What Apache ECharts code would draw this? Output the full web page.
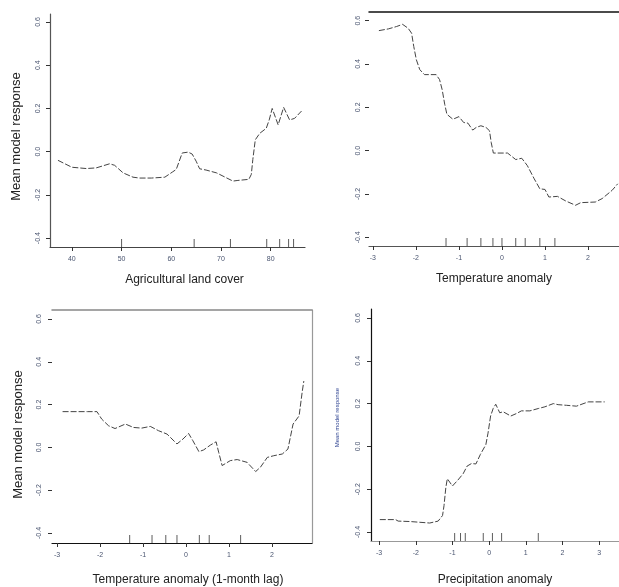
<!DOCTYPE html>
<html>
<head>
<meta charset="utf-8">
<script src="https://cdn.jsdelivr.net/npm/echarts@6/dist/echarts.min.js"></script>
<style>
  html, body { margin: 0; padding: 0; background: #fff; }
  #chart { width: 619px; height: 587px; }
</style>
</head>
<body>
<div id="chart"></div>
<script>
// partial dependence curves
var yTicks = [-0.4, -0.2, 0, 0.2, 0.4, 0.6];

var agriTicks = [40, 50, 60, 70, 80];
var agriX = [37.2, 40, 42.9, 44.9, 47.6, 48.6, 50.3, 52.3, 53.6, 56.0, 58.7, 60.3, 61.0, 62.2, 63.4, 64.2, 65.0, 65.7, 67.0, 69.1, 70.4, 72.4, 73.4, 75.6, 76.1, 76.4, 76.9, 77.8, 79.1, 79.7, 80.3, 81.5, 82.6, 83.8, 84.8, 86.2];
var agriY = [-0.040, -0.072, -0.078, -0.075, -0.056, -0.063, -0.098, -0.118, -0.122, -0.122, -0.118, -0.093, -0.082, -0.006, -0.002, -0.011, -0.044, -0.079, -0.085, -0.098, -0.113, -0.136, -0.133, -0.128, -0.105, -0.037, 0.055, 0.085, 0.108, 0.147, 0.200, 0.124, 0.205, 0.147, 0.154, 0.188];
var agriRug = [50, 64.6, 71.9, 79.2, 81.8, 83.6, 84.6];

var tempTicks = [-3, -2, -1, 0, 1, 2];
var tempX = [-2.86, -2.64, -2.45, -2.31, -2.18, -2.10, -2.05, -1.99, -1.91, -1.80, -1.53, -1.45, -1.39, -1.33, -1.28, -1.14, -1.00, -0.89, -0.79, -0.68, -0.60, -0.49, -0.37, -0.29, -0.25, -0.20, 0.13, 0.32, 0.46, 0.59, 0.75, 0.88, 1.00, 1.09, 1.29, 1.48, 1.71, 1.83, 2.17, 2.33, 2.56, 2.69];
var tempY = [0.554, 0.562, 0.573, 0.583, 0.565, 0.542, 0.481, 0.420, 0.374, 0.351, 0.351, 0.328, 0.282, 0.214, 0.168, 0.145, 0.157, 0.130, 0.127, 0.095, 0.107, 0.115, 0.107, 0.092, 0.038, -0.011, -0.011, -0.041, -0.035, -0.069, -0.130, -0.176, -0.179, -0.214, -0.211, -0.232, -0.252, -0.240, -0.237, -0.221, -0.183, -0.153];
var tempRug = [-1.30, -0.81, -0.49, -0.21, 0, 0.32, 0.54, 0.88, 1.23];

var lagTicks = [-3, -2, -1, 0, 1, 2];
var lagX = [-2.87, -2.29, -2.07, -1.96, -1.80, -1.65, -1.41, -1.22, -1.03, -0.83, -0.64, -0.44, -0.21, -0.07, 0.06, 0.16, 0.30, 0.41, 0.57, 0.70, 0.76, 0.84, 1.03, 1.19, 1.42, 1.62, 1.73, 1.89, 2.04, 2.24, 2.37, 2.49, 2.63, 2.70, 2.74];
var lagY = [0.167, 0.167, 0.167, 0.132, 0.101, 0.088, 0.109, 0.093, 0.090, 0.098, 0.078, 0.062, 0.016, 0.039, 0.065, 0.031, -0.020, -0.012, 0.011, 0.026, -0.023, -0.085, -0.062, -0.057, -0.070, -0.113, -0.093, -0.047, -0.039, -0.031, -0.008, 0.109, 0.147, 0.256, 0.310];
var lagRug = [-1.31, -0.79, -0.47, -0.21, 0.31, 0.54, 1.27];

var precTicks = [-3, -2, -1, 0, 1, 2, 3];
var precX = [-2.98, -2.55, -2.48, -2.16, -1.62, -1.39, -1.27, -1.23, -1.18, -1.14, -1.00, -0.85, -0.71, -0.60, -0.48, -0.36, -0.24, -0.09, -0.03, 0.04, 0.11, 0.18, 0.29, 0.38, 0.59, 0.75, 0.88, 1.11, 1.34, 1.52, 1.75, 1.88, 2.11, 2.38, 2.70, 3.15];
var precY = [-0.342, -0.342, -0.349, -0.351, -0.358, -0.349, -0.323, -0.277, -0.192, -0.151, -0.185, -0.157, -0.128, -0.092, -0.080, -0.082, -0.038, 0.008, 0.062, 0.142, 0.177, 0.197, 0.157, 0.162, 0.142, 0.154, 0.166, 0.166, 0.177, 0.185, 0.200, 0.195, 0.192, 0.188, 0.208, 0.208];
var precRug = [-0.94, -0.78, -0.65, -0.16, 0.09, 0.34, 1.34];

var chart = echarts.init(document.getElementById('chart'));

function pairs(xs, ys) {
  var out = [];
  for (var i = 0; i < xs.length; i++) {
    out.push([xs[i], ys[i]]);
  }
  return out;
}

var font = 'Liberation Sans, Arial, sans-serif';
var labelColor = '#4a5570';

function xAx(idx, min, max, ticks, name, gap, lineColor, shift) {
  return {
    type: 'value', gridIndex: idx, min: min, max: max,
    name: name, nameLocation: 'middle', nameGap: gap,
    nameTextStyle: { fontFamily: font, fontSize: 12, color: '#222', padding: [0, 0, 0, shift] },
    axisLine: { show: true, onZero: false, lineStyle: { color: lineColor, width: 1.2 } },
    axisTick: { show: true, length: 4, customValues: ticks, lineStyle: { color: '#333' } },
    axisLabel: { customValues: ticks, margin: 9, fontSize: 7, fontFamily: font, color: labelColor },
    splitLine: { show: false }
  };
}

function yAx(idx, min, max, name, lineShow, lineColor, margin, shift) {
  return {
    type: 'value', gridIndex: idx, min: min, max: max,
    name: name, nameLocation: 'middle', nameGap: 27,
    nameTextStyle: { fontFamily: font, fontSize: 13, color: '#222', padding: [0, shift, 0, 0] },
    axisLine: { show: lineShow, onZero: false, lineStyle: { color: lineColor, width: 1.2 } },
    axisTick: { show: true, length: 4, customValues: yTicks, lineStyle: { color: '#333' } },
    axisLabel: {
      customValues: yTicks, rotate: 90, margin: margin, fontSize: 7, fontFamily: font, color: labelColor,
      formatter: function (v) { return v.toFixed(1); }
    },
    splitLine: { show: false }
  };
}

// plain border lines drawn as extra axes
function edgeX(idx, min, max, color) {
  return {
    type: 'value', gridIndex: idx, min: min, max: max, position: 'top',
    axisLine: { show: true, onZero: false, lineStyle: { color: color, width: 1.5 } },
    axisTick: { show: false }, axisLabel: { show: false }, splitLine: { show: false }
  };
}
function edgeY(idx, min, max, color) {
  return {
    type: 'value', gridIndex: idx, min: min, max: max, position: 'right',
    axisLine: { show: true, onZero: false, lineStyle: { color: color, width: 1.2 } },
    axisTick: { show: false }, axisLabel: { show: false }, splitLine: { show: false }
  };
}

function curve(xi, yi, data) {
  return {
    type: 'line', xAxisIndex: xi, yAxisIndex: yi, data: data, symbol: 'none',
    lineStyle: { color: '#444', width: 1, type: [6, 2] }, silent: true
  };
}

function rug(xi, yi, vals, yMin) {
  return {
    type: 'scatter', xAxisIndex: xi, yAxisIndex: yi, clip: false, silent: true,
    data: vals.map(function (v) { return [v, yMin]; }),
    symbol: 'rect', symbolSize: [1, 8], symbolOffset: [0, -4],
    itemStyle: { color: '#333' }
  };
}

var Y1 = [-0.441, 0.637], Y2 = [-0.44, 0.64], Y3 = [-0.447, 0.642], Y4 = [-0.442, 0.642];
var X1 = [35.6, 86.9], X2 = [-3.09, 2.72], X3 = [-3.116, 2.93], X4 = [-3.22, 3.54];

var option = {
  animation: false,
  backgroundColor: '#fff',
  grid: [
    { left: 50, top: 14, width: 255, height: 233 },
    { left: 369, top: 12, right: 0, height: 234 },
    { left: 52, top: 310, width: 260, height: 234 },
    { left: 371, top: 309, right: 0, height: 233 }
  ],
  xAxis: [
    xAx(0, X1[0], X1[1], agriTicks, 'Agricultural land cover', 27, '#444', 14),
    xAx(1, X2[0], X2[1], tempTicks, 'Temperature anomaly', 27, '#555', 0),
    xAx(2, X3[0], X3[1], lagTicks, 'Temperature anomaly (1-month lag)', 31, '#111', 12),
    xAx(3, X4[0], X4[1], precTicks, 'Precipitation anomaly', 33, '#999', 0),
    edgeX(1, X2[0], X2[1], '#111'),
    edgeX(2, X3[0], X3[1], '#888')
  ],
  yAxis: [
    yAx(0, Y1[0], Y1[1], 'Mean model response', true, '#555', 8, 12),
    yAx(1, Y2[0], Y2[1], '', false, '#555', 7, 0),
    yAx(2, Y3[0], Y3[1], 'Mean model response', false, '#555', 9, 16),
    yAx(3, Y4[0], Y4[1], '', true, '#111', 9, 0),
    edgeY(2, Y3[0], Y3[1], '#999')
  ],
  graphic: [
    {
      type: 'text', left: 334, top: 388, rotation: Math.PI / 2,
      style: { text: 'Mean model response', fontSize: 6, fontFamily: font, fill: '#2a3f8f' }
    }
  ],
  series: [
    curve(0, 0, pairs(agriX, agriY)),
    rug(0, 0, agriRug, Y1[0]),
    curve(1, 1, pairs(tempX, tempY)),
    rug(1, 1, tempRug, Y2[0]),
    curve(2, 2, pairs(lagX, lagY)),
    rug(2, 2, lagRug, Y3[0]),
    curve(3, 3, pairs(precX, precY)),
    rug(3, 3, precRug, Y4[0])
  ]
};

chart.setOption(option);
</script>
</body>
</html>
